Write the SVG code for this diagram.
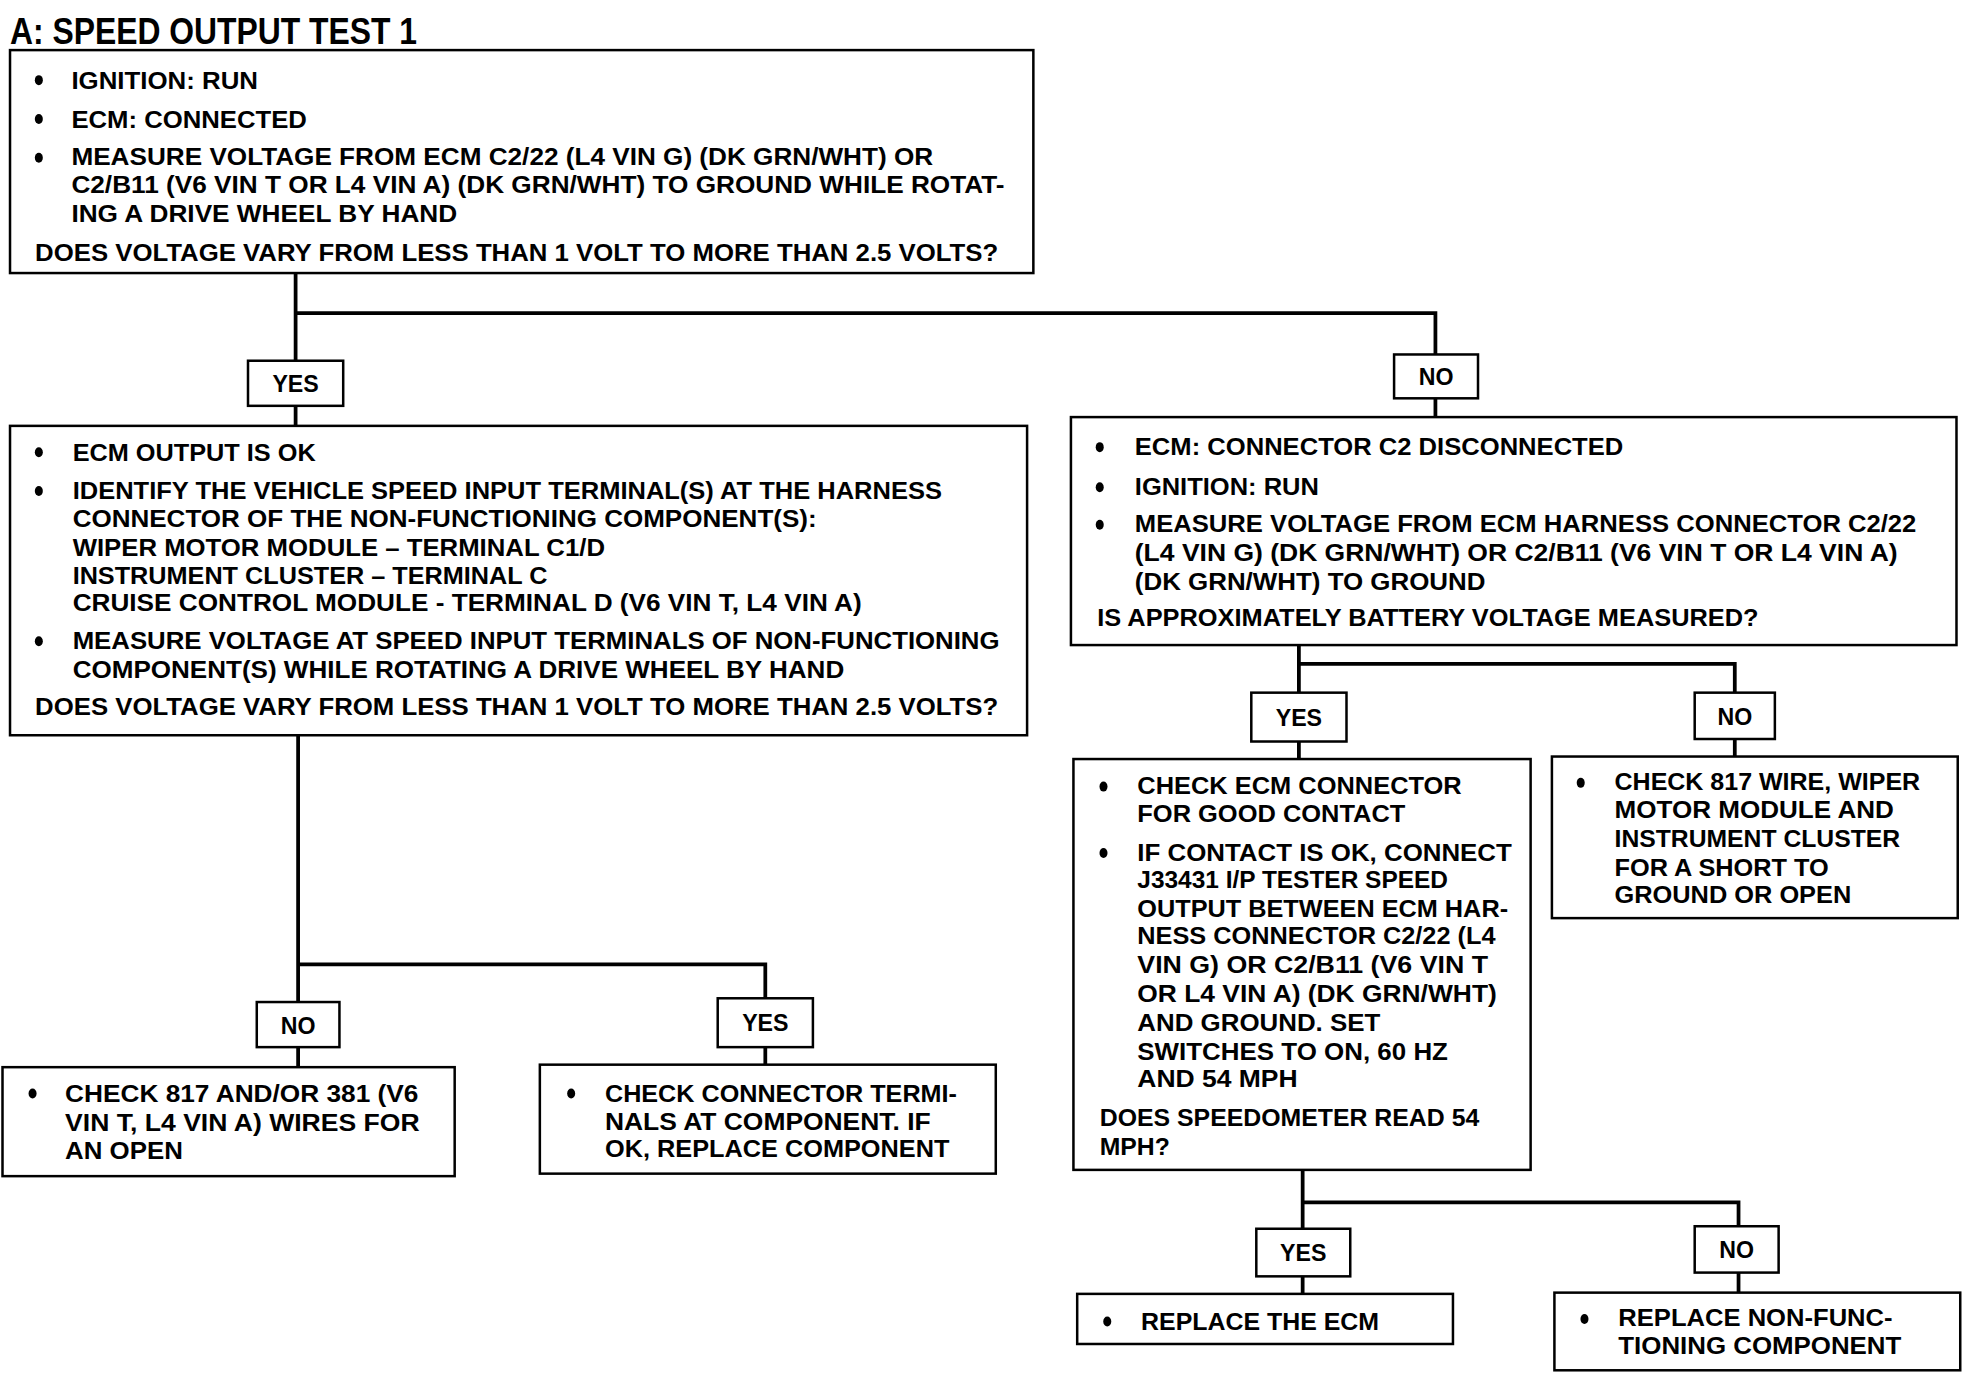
<svg xmlns="http://www.w3.org/2000/svg" width="1964" height="1376" viewBox="0 0 1964 1376">
<style>
.t{font-family:"Liberation Sans","Arial",sans-serif;font-weight:bold;font-size:18.5px;fill:#000}
.ttl{font-family:"Liberation Sans","Arial",sans-serif;font-weight:bold;font-size:29px;fill:#000}
.box{fill:#fff;stroke:#000;stroke-width:2}
.ln{fill:none;stroke:#000;stroke-width:3}
.b{fill:#000}
</style>
<rect width="1964" height="1376" fill="#fff"/>
<g transform="scale(1.25255)">
<text class="ttl" x="8" y="35.5" textLength="325" lengthAdjust="spacingAndGlyphs">A: SPEED OUTPUT TEST 1</text>
<g id="connectors">
<polyline class="ln" points="236,218 236,288"/>
<polyline class="ln" points="236,250 1146,250 1146,283"/>
<line class="ln" x1="236" y1="324" x2="236" y2="340"/>
<line class="ln" x1="1146" y1="318" x2="1146" y2="334"/>
<polyline class="ln" points="238,587 238,800"/>
<polyline class="ln" points="238,770 611,770 611,797"/>
<line class="ln" x1="238" y1="836" x2="238" y2="852"/>
<line class="ln" x1="611" y1="836" x2="611" y2="850"/>
<polyline class="ln" points="1037,515 1037,553"/>
<polyline class="ln" points="1037,530 1385,530 1385,553"/>
<line class="ln" x1="1037" y1="592" x2="1037" y2="606"/>
<line class="ln" x1="1385" y1="590" x2="1385" y2="604"/>
<polyline class="ln" points="1040,934 1040,981"/>
<polyline class="ln" points="1040,960 1388,960 1388,979"/>
<line class="ln" x1="1040" y1="1019" x2="1040" y2="1033"/>
<line class="ln" x1="1388" y1="1016" x2="1388" y2="1032"/>
</g>
<g id="nodeA">
<rect class="box" x="8" y="40" width="817" height="178"/>
<ellipse class="b" cx="31" cy="64" rx="3.2" ry="4"/>
<text class="t" x="57" y="71" textLength="149" lengthAdjust="spacingAndGlyphs">IGNITION: RUN</text>
<ellipse class="b" cx="31" cy="95" rx="3.2" ry="4"/>
<text class="t" x="57" y="102" textLength="188" lengthAdjust="spacingAndGlyphs">ECM: CONNECTED</text>
<ellipse class="b" cx="31" cy="126" rx="3.2" ry="4"/>
<text class="t" x="57" y="132" textLength="688" lengthAdjust="spacingAndGlyphs">MEASURE VOLTAGE FROM ECM C2/22 (L4 VIN G) (DK GRN/WHT) OR</text>
<text class="t" x="57" y="154" textLength="745" lengthAdjust="spacingAndGlyphs">C2/B11 (V6 VIN T OR L4 VIN A) (DK GRN/WHT) TO GROUND WHILE ROTAT-</text>
<text class="t" x="57" y="177" textLength="308" lengthAdjust="spacingAndGlyphs">ING A DRIVE WHEEL BY HAND</text>
<text class="t" x="28" y="208" textLength="769" lengthAdjust="spacingAndGlyphs">DOES VOLTAGE VARY FROM LESS THAN 1 VOLT TO MORE THAN 2.5 VOLTS?</text>
</g>
<g id="yes1">
<rect class="box" x="198" y="288" width="76" height="36"/>
<text class="t" x="236" y="313" text-anchor="middle">YES</text>
</g>
<g id="no1">
<rect class="box" x="1113" y="283" width="67" height="35"/>
<text class="t" x="1146.5" y="307.5" text-anchor="middle">NO</text>
</g>
<g id="nodeB">
<rect class="box" x="8" y="340" width="812" height="247"/>
<ellipse class="b" cx="31" cy="361" rx="3.2" ry="4"/>
<text class="t" x="58" y="368" textLength="194" lengthAdjust="spacingAndGlyphs">ECM OUTPUT IS OK</text>
<ellipse class="b" cx="31" cy="392" rx="3.2" ry="4"/>
<text class="t" x="58" y="398" textLength="694" lengthAdjust="spacingAndGlyphs">IDENTIFY THE VEHICLE SPEED INPUT TERMINAL(S) AT THE HARNESS</text>
<text class="t" x="58" y="421" textLength="594" lengthAdjust="spacingAndGlyphs">CONNECTOR OF THE NON-FUNCTIONING COMPONENT(S):</text>
<text class="t" x="58" y="444" textLength="425" lengthAdjust="spacingAndGlyphs">WIPER MOTOR MODULE – TERMINAL C1/D</text>
<text class="t" x="58" y="466" textLength="379" lengthAdjust="spacingAndGlyphs">INSTRUMENT CLUSTER – TERMINAL C</text>
<text class="t" x="58" y="488" textLength="630" lengthAdjust="spacingAndGlyphs">CRUISE CONTROL MODULE - TERMINAL D (V6 VIN T, L4 VIN A)</text>
<ellipse class="b" cx="31" cy="512" rx="3.2" ry="4"/>
<text class="t" x="58" y="518" textLength="740" lengthAdjust="spacingAndGlyphs">MEASURE VOLTAGE AT SPEED INPUT TERMINALS OF NON-FUNCTIONING</text>
<text class="t" x="58" y="541" textLength="616" lengthAdjust="spacingAndGlyphs">COMPONENT(S) WHILE ROTATING A DRIVE WHEEL BY HAND</text>
<text class="t" x="28" y="571" textLength="769" lengthAdjust="spacingAndGlyphs">DOES VOLTAGE VARY FROM LESS THAN 1 VOLT TO MORE THAN 2.5 VOLTS?</text>
</g>
<g id="no2">
<rect class="box" x="205" y="800" width="66" height="36"/>
<text class="t" x="238" y="825.5" text-anchor="middle">NO</text>
</g>
<g id="yes2">
<rect class="box" x="573" y="797" width="76" height="39"/>
<text class="t" x="611" y="823.5" text-anchor="middle">YES</text>
</g>
<g id="nodeD">
<rect class="box" x="2" y="852" width="361" height="87"/>
<ellipse class="b" cx="26" cy="873" rx="3.2" ry="4"/>
<text class="t" x="52" y="880" textLength="282" lengthAdjust="spacingAndGlyphs">CHECK 817 AND/OR 381 (V6</text>
<text class="t" x="52" y="903" textLength="283" lengthAdjust="spacingAndGlyphs">VIN T, L4 VIN A) WIRES FOR</text>
<text class="t" x="52" y="925" textLength="94" lengthAdjust="spacingAndGlyphs">AN OPEN</text>
</g>
<g id="nodeE">
<rect class="box" x="431" y="850" width="364" height="87"/>
<ellipse class="b" cx="456" cy="873" rx="3.2" ry="4"/>
<text class="t" x="483" y="880" textLength="281" lengthAdjust="spacingAndGlyphs">CHECK CONNECTOR TERMI-</text>
<text class="t" x="483" y="902" textLength="260" lengthAdjust="spacingAndGlyphs">NALS AT COMPONENT. IF</text>
<text class="t" x="483" y="924" textLength="275" lengthAdjust="spacingAndGlyphs">OK, REPLACE COMPONENT</text>
</g>
<g id="nodeC">
<rect class="box" x="855" y="333" width="707" height="182"/>
<ellipse class="b" cx="878" cy="357" rx="3.2" ry="4"/>
<text class="t" x="906" y="363" textLength="390" lengthAdjust="spacingAndGlyphs">ECM: CONNECTOR C2 DISCONNECTED</text>
<ellipse class="b" cx="878" cy="389" rx="3.2" ry="4"/>
<text class="t" x="906" y="395" textLength="147" lengthAdjust="spacingAndGlyphs">IGNITION: RUN</text>
<ellipse class="b" cx="878" cy="419" rx="3.2" ry="4"/>
<text class="t" x="906" y="425" textLength="624" lengthAdjust="spacingAndGlyphs">MEASURE VOLTAGE FROM ECM HARNESS CONNECTOR C2/22</text>
<text class="t" x="906" y="448" textLength="609" lengthAdjust="spacingAndGlyphs">(L4 VIN G) (DK GRN/WHT) OR C2/B11 (V6 VIN T OR L4 VIN A)</text>
<text class="t" x="906" y="471" textLength="280" lengthAdjust="spacingAndGlyphs">(DK GRN/WHT) TO GROUND</text>
<text class="t" x="876" y="500" textLength="528" lengthAdjust="spacingAndGlyphs">IS APPROXIMATELY BATTERY VOLTAGE MEASURED?</text>
</g>
<g id="yes3">
<rect class="box" x="999" y="553" width="76" height="39"/>
<text class="t" x="1037" y="579.5" text-anchor="middle">YES</text>
</g>
<g id="no3">
<rect class="box" x="1353" y="553" width="64" height="37"/>
<text class="t" x="1385" y="578.5" text-anchor="middle">NO</text>
</g>
<g id="nodeF">
<rect class="box" x="857" y="606" width="365" height="328"/>
<ellipse class="b" cx="881" cy="628" rx="3.2" ry="4"/>
<text class="t" x="908" y="634" textLength="259" lengthAdjust="spacingAndGlyphs">CHECK ECM CONNECTOR</text>
<text class="t" x="908" y="656" textLength="214" lengthAdjust="spacingAndGlyphs">FOR GOOD CONTACT</text>
<ellipse class="b" cx="881" cy="681" rx="3.2" ry="4"/>
<text class="t" x="908" y="687" textLength="299" lengthAdjust="spacingAndGlyphs">IF CONTACT IS OK, CONNECT</text>
<text class="t" x="908" y="709" textLength="248" lengthAdjust="spacingAndGlyphs">J33431 I/P TESTER SPEED</text>
<text class="t" x="908" y="732" textLength="296" lengthAdjust="spacingAndGlyphs">OUTPUT BETWEEN ECM HAR-</text>
<text class="t" x="908" y="754" textLength="286" lengthAdjust="spacingAndGlyphs">NESS CONNECTOR C2/22 (L4</text>
<text class="t" x="908" y="777" textLength="280" lengthAdjust="spacingAndGlyphs">VIN G) OR C2/B11 (V6 VIN T</text>
<text class="t" x="908" y="800" textLength="287" lengthAdjust="spacingAndGlyphs">OR L4 VIN A) (DK GRN/WHT)</text>
<text class="t" x="908" y="823" textLength="194" lengthAdjust="spacingAndGlyphs">AND GROUND. SET</text>
<text class="t" x="908" y="846" textLength="248" lengthAdjust="spacingAndGlyphs">SWITCHES TO ON, 60 HZ</text>
<text class="t" x="908" y="868" textLength="128" lengthAdjust="spacingAndGlyphs">AND 54 MPH</text>
<text class="t" x="878" y="899" textLength="303" lengthAdjust="spacingAndGlyphs">DOES SPEEDOMETER READ 54</text>
<text class="t" x="878" y="922" textLength="56" lengthAdjust="spacingAndGlyphs">MPH?</text>
</g>
<g id="nodeG">
<rect class="box" x="1239" y="604" width="324" height="129"/>
<ellipse class="b" cx="1262" cy="625" rx="3.2" ry="4"/>
<text class="t" x="1289" y="631" textLength="244" lengthAdjust="spacingAndGlyphs">CHECK 817 WIRE, WIPER</text>
<text class="t" x="1289" y="653" textLength="223" lengthAdjust="spacingAndGlyphs">MOTOR MODULE AND</text>
<text class="t" x="1289" y="676" textLength="228" lengthAdjust="spacingAndGlyphs">INSTRUMENT CLUSTER</text>
<text class="t" x="1289" y="699" textLength="171" lengthAdjust="spacingAndGlyphs">FOR A SHORT TO</text>
<text class="t" x="1289" y="721" textLength="189" lengthAdjust="spacingAndGlyphs">GROUND OR OPEN</text>
</g>
<g id="yes4">
<rect class="box" x="1003" y="981" width="75" height="38"/>
<text class="t" x="1040.5" y="1007" text-anchor="middle">YES</text>
</g>
<g id="no4">
<rect class="box" x="1353" y="979" width="67" height="37"/>
<text class="t" x="1386.5" y="1004.5" text-anchor="middle">NO</text>
</g>
<g id="nodeH">
<rect class="box" x="860" y="1033" width="300" height="40"/>
<ellipse class="b" cx="884" cy="1055" rx="3.2" ry="4"/>
<text class="t" x="911" y="1061.5" textLength="190" lengthAdjust="spacingAndGlyphs">REPLACE THE ECM</text>
</g>
<g id="nodeI">
<rect class="box" x="1241" y="1032" width="324" height="62"/>
<ellipse class="b" cx="1265" cy="1053" rx="3.2" ry="4"/>
<text class="t" x="1292" y="1059" textLength="219" lengthAdjust="spacingAndGlyphs">REPLACE NON-FUNC-</text>
<text class="t" x="1292" y="1081" textLength="226" lengthAdjust="spacingAndGlyphs">TIONING COMPONENT</text>
</g>
</g>
</svg>
